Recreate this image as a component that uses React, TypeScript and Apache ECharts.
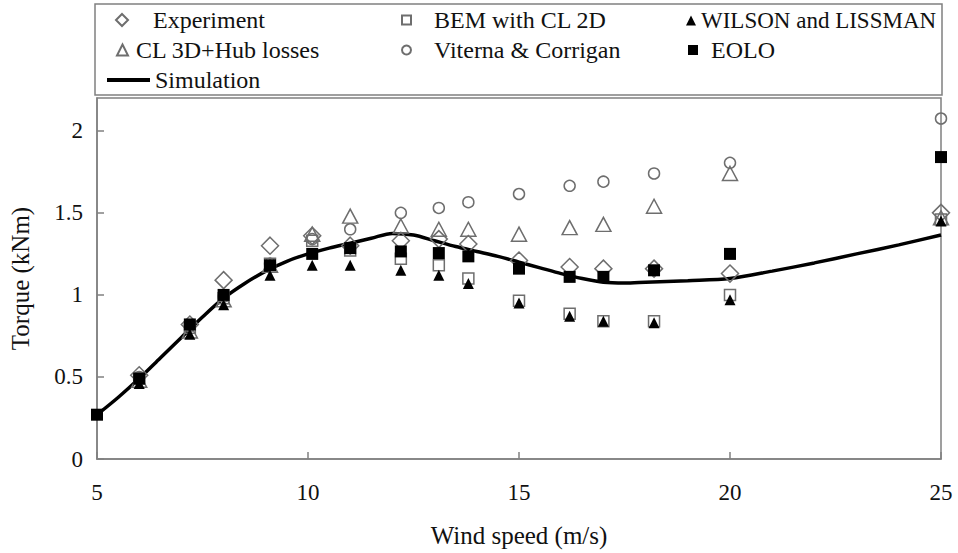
import React, { useEffect, useRef } from 'react';
import * as echarts from 'echarts';

// Wind speeds (m/s) of the measured / computed points
const windX = [6, 7.2, 8, 9.1, 10.1, 11, 12.2, 13.1, 13.8, 15, 16.2, 17, 18.2, 20, 25];
const eoloX = [5, 6, 7.2, 8, 9.1, 10.1, 11, 12.2, 13.1, 13.8, 15, 16.2, 17, 18.2, 20, 25];

// Torque (kNm)
const experimentY = [0.51, 0.82, 1.09, 1.30, 1.36, 1.30, 1.33, 1.34, 1.31, 1.21, 1.17, 1.16, 1.16, 1.13, 1.50];
const bemY = [0.49, 0.80, 0.98, 1.19, 1.33, 1.27, 1.22, 1.18, 1.10, 0.965, 0.885, 0.84, 0.84, 1.00, 1.46];
const wilsonY = [0.46, 0.76, 0.94, 1.12, 1.18, 1.18, 1.15, 1.12, 1.07, 0.95, 0.87, 0.84, 0.83, 0.97, 1.45];
const cl3dY = [0.48, 0.78, 0.97, 1.18, 1.37, 1.48, 1.42, 1.40, 1.40, 1.37, 1.41, 1.43, 1.54, 1.74, 1.47];
const viternaY = [0.50, 0.81, 0.99, 1.19, 1.34, 1.40, 1.50, 1.53, 1.565, 1.615, 1.665, 1.69, 1.74, 1.805, 2.075];
const eoloY = [0.27, 0.49, 0.82, 1.00, 1.18, 1.25, 1.285, 1.265, 1.255, 1.235, 1.16, 1.11, 1.11, 1.15, 1.25, 1.84];

// Simulation curve
const simX = [5, 5.5, 6, 6.5, 7, 7.5, 8, 8.5, 9, 9.5, 10, 10.5, 11, 11.5, 12, 12.5, 13, 13.5, 14, 14.5, 15, 15.5, 16, 16.5, 17, 17.5, 18, 19, 20, 21, 22, 23, 24, 25];
const simY = [0.27, 0.375, 0.49, 0.615, 0.74, 0.865, 0.98, 1.07, 1.145, 1.205, 1.25, 1.285, 1.315, 1.345, 1.375, 1.365, 1.33, 1.295, 1.265, 1.235, 1.20, 1.165, 1.13, 1.10, 1.077, 1.072, 1.077, 1.087, 1.10, 1.145, 1.195, 1.25, 1.305, 1.365];

const xTicks = { min: 5, max: 25, interval: 5 };
const yTicks = { min: 0, max: 2.2, interval: 0.5 };

const FONT = "'Liberation Serif', 'Times New Roman', 'DejaVu Serif', serif";
const GRAY = '#6e6e6e';
const TEXT = '#111';

const zip = (xs: number[], ys: number[]) => xs.map((x, i) => [x, ys[i]]);

const hollow = { color: 'rgba(255,255,255,0)', borderColor: GRAY, borderWidth: 1.5, opacity: 1 };
const filled = { color: '#000', borderColor: '#000', borderWidth: 0, opacity: 1 };

function legendAt(name: string, left: number, top: number, size: number, pad: number, fontSize = 24) {
  return {
    data: [name],
    left,
    top,
    orient: 'horizontal',
    padding: 0,
    itemWidth: size,
    itemHeight: size,
    itemGap: 0,
    selectedMode: false,
    textStyle: { fontFamily: FONT, fontSize, color: TEXT, padding: [0, 0, 0, pad] },
  };
}

export default function App() {
  const ref = useRef<HTMLDivElement>(null);
  useEffect(() => {
    document.body.style.margin = '0';
    const chart = echarts.init(ref.current!, null, { renderer: 'svg' });
    chart.setOption({
      animation: false,
      backgroundColor: '#fff',
      grid: { left: 96, right: 17, top: 98, bottom: 85, show: true, borderColor: '#808080', borderWidth: 1.5 },
      graphic: [
        {
          type: 'rect',
          shape: { x: 95, y: 4, width: 847, height: 91 },
          style: { fill: 'none', stroke: '#808080', lineWidth: 1.5 },
          silent: true,
        },
      ],
      legend: [
        legendAt('Experiment', 115, 8, 12, 20),
        legendAt('BEM with CL 2D', 401, 8, 9, 18),
        legendAt('WILSON and LISSMAN', 686, 9, 10, 0, 23),
        legendAt('CL 3D+Hub losses', 116, 38, 11, 3),
        legendAt('Viterna & Corrigan', 401, 38, 9, 18),
        legendAt('EOLO', 688, 38, 10, 8),
        { ...legendAt('Simulation', 107, 68, 43, 0), itemWidth: 43, itemHeight: 4, icon: 'rect' },
      ],
      xAxis: {
        type: 'value',
        ...xTicks,
        name: 'Wind speed (m/s)',
        nameLocation: 'middle',
        nameGap: 64,
        nameTextStyle: { fontFamily: FONT, fontSize: 25, color: TEXT },
        axisLine: { lineStyle: { color: '#808080', width: 1.5 } },
        axisTick: { inside: true, length: 7, lineStyle: { color: '#808080', width: 1.5 } },
        axisLabel: { fontFamily: FONT, fontSize: 23, color: TEXT, margin: 22 },
        splitLine: { show: false },
      },
      yAxis: {
        type: 'value',
        ...yTicks,
        name: 'Torque (kNm)',
        nameLocation: 'middle',
        nameGap: 64,
        nameTextStyle: { fontFamily: FONT, fontSize: 25, color: TEXT },
        axisLine: { show: true, lineStyle: { color: '#808080', width: 1.5 } },
        axisTick: { show: true, inside: true, length: 7, lineStyle: { color: '#808080', width: 1.5 } },
        axisLabel: { fontFamily: FONT, fontSize: 23, color: TEXT, margin: 14, showMaxLabel: false },
        splitLine: { show: false },
      },
      series: [
        {
          name: 'Simulation',
          type: 'line',
          data: zip(simX, simY),
          smooth: 0.3,
          symbol: 'none',
          lineStyle: { color: '#000', width: 3.5 },
          itemStyle: { color: '#000' },
          z: 2,
        },
        {
          name: 'Experiment',
          type: 'scatter',
          data: zip(windX, experimentY),
          symbol: 'diamond',
          symbolSize: [17, 17],
          itemStyle: hollow,
          z: 3,
        },
        {
          name: 'CL 3D+Hub losses',
          type: 'scatter',
          data: zip(windX, cl3dY),
          symbol: 'triangle',
          symbolSize: [15, 14],
          itemStyle: hollow,
          z: 3,
        },
        {
          name: 'Viterna & Corrigan',
          type: 'scatter',
          data: zip(windX, viternaY),
          symbol: 'circle',
          symbolSize: 11,
          itemStyle: hollow,
          z: 3,
        },
        {
          name: 'BEM with CL 2D',
          type: 'scatter',
          data: zip(windX, bemY),
          symbol: 'rect',
          symbolSize: 11,
          itemStyle: hollow,
          z: 4,
        },
        {
          name: 'EOLO',
          type: 'scatter',
          data: zip(eoloX, eoloY),
          symbol: 'rect',
          symbolSize: 12,
          itemStyle: filled,
          z: 5,
        },
        {
          name: 'WILSON and LISSMAN',
          type: 'scatter',
          data: zip(windX, wilsonY),
          symbol: 'triangle',
          symbolSize: [11, 11],
          itemStyle: filled,
          z: 6,
        },
      ],
    });
    return () => chart.dispose();
  }, []);
  return <div ref={ref} style={{ width: 958, height: 553 }} />;
}
